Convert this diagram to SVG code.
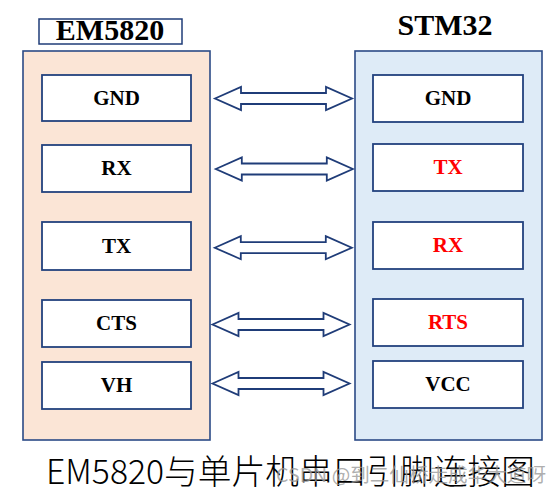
<svg xmlns="http://www.w3.org/2000/svg" width="558" height="498" viewBox="0 0 558 498">
<defs>
<style>
.outer{stroke:#2B4A86;stroke-width:1.6}
.inner{fill:#FFFFFF;stroke:#23427E;stroke-width:1.8}
.lbl{font-family:"Liberation Serif","Times New Roman",serif;font-weight:bold;font-size:21px;text-anchor:middle}
.title{font-family:"Liberation Serif","Times New Roman",serif;font-weight:bold;font-size:30px;text-anchor:middle;fill:#000}
.blk{fill:#000}
.red{fill:#FF0000}
.arrow{fill:#FFFFFF;stroke:#1F3C78;stroke-width:1.8;stroke-linejoin:miter}
</style>
<path id="dbl" d="M-68.5,0 L-42.5,-11.5 L-42.5,-5.5 L42.5,-5.5 L42.5,-11.5 L68.5,0 L42.5,11.5 L42.5,5.5 L-42.5,5.5 L-42.5,11.5 Z"/>
</defs>
<rect width="558" height="498" fill="#FFFFFF"/>

<g id="em5820">
<rect x="39" y="19" width="143" height="25" fill="#FFFFFF" stroke="#1F3C78" stroke-width="1.5"/>
<text class="title" x="110" y="40">EM5820</text>
<rect class="outer" x="23" y="51" width="187" height="389" fill="#FBE5D6"/>
</g>
<g id="stm32">
<text class="title" x="445" y="35">STM32</text>
<rect class="outer" x="355" y="51" width="187" height="389" fill="#DEEBF7"/>
</g>

<g id="em-gnd"><rect class="inner" x="42" y="75" width="149" height="46"/><text class="lbl blk" x="116.5" y="105">GND</text></g>
<g id="em-rx"><rect class="inner" x="42" y="145" width="149" height="47"/><text class="lbl blk" x="116.5" y="175">RX</text></g>
<g id="em-tx"><rect class="inner" x="42" y="222" width="149" height="48"/><text class="lbl blk" x="116.5" y="253">TX</text></g>
<g id="em-cts"><rect class="inner" x="42" y="300" width="149" height="47"/><text class="lbl blk" x="116.5" y="330">CTS</text></g>
<g id="em-vh"><rect class="inner" x="42" y="362" width="149" height="47"/><text class="lbl blk" x="116.5" y="392">VH</text></g>

<g id="st-gnd"><rect class="inner" x="373" y="75" width="150" height="47"/><text class="lbl blk" x="448" y="105">GND</text></g>
<g id="st-tx"><rect class="inner" x="373" y="144" width="150" height="47"/><text class="lbl red" x="448" y="174">TX</text></g>
<g id="st-rx"><rect class="inner" x="373" y="222" width="150" height="47"/><text class="lbl red" x="448" y="252">RX</text></g>
<g id="st-rts"><rect class="inner" x="373" y="299" width="150" height="47"/><text class="lbl red" x="448" y="329">RTS</text></g>
<g id="st-vcc"><rect class="inner" x="373" y="361" width="150" height="47"/><text class="lbl blk" x="448" y="391">VCC</text></g>

<g id="connectors">
<use href="#dbl" class="arrow" transform="translate(283.5,98.5)"/>
<use href="#dbl" class="arrow" transform="translate(284.3,169)"/>
<use href="#dbl" class="arrow" transform="translate(283.3,247.7)"/>
<use href="#dbl" class="arrow" transform="translate(281,324.5)"/>
<use href="#dbl" class="arrow" transform="translate(281,383.5)"/>
</g>

<text x="46" y="484" textLength="489" lengthAdjust="spacingAndGlyphs" font-family="'Noto Sans CJK SC','DejaVu Sans',sans-serif" font-size="34" font-weight="300" fill="#000">EM5820与单片机串口引脚连接图</text>
<text x="276" y="482" textLength="270" lengthAdjust="spacingAndGlyphs" font-family="'Noto Sans CJK SC','DejaVu Sans',sans-serif" font-size="19" fill="#999999" fill-opacity="0.8">CSDN @到二仙桥走成华大道呀</text>
</svg>
